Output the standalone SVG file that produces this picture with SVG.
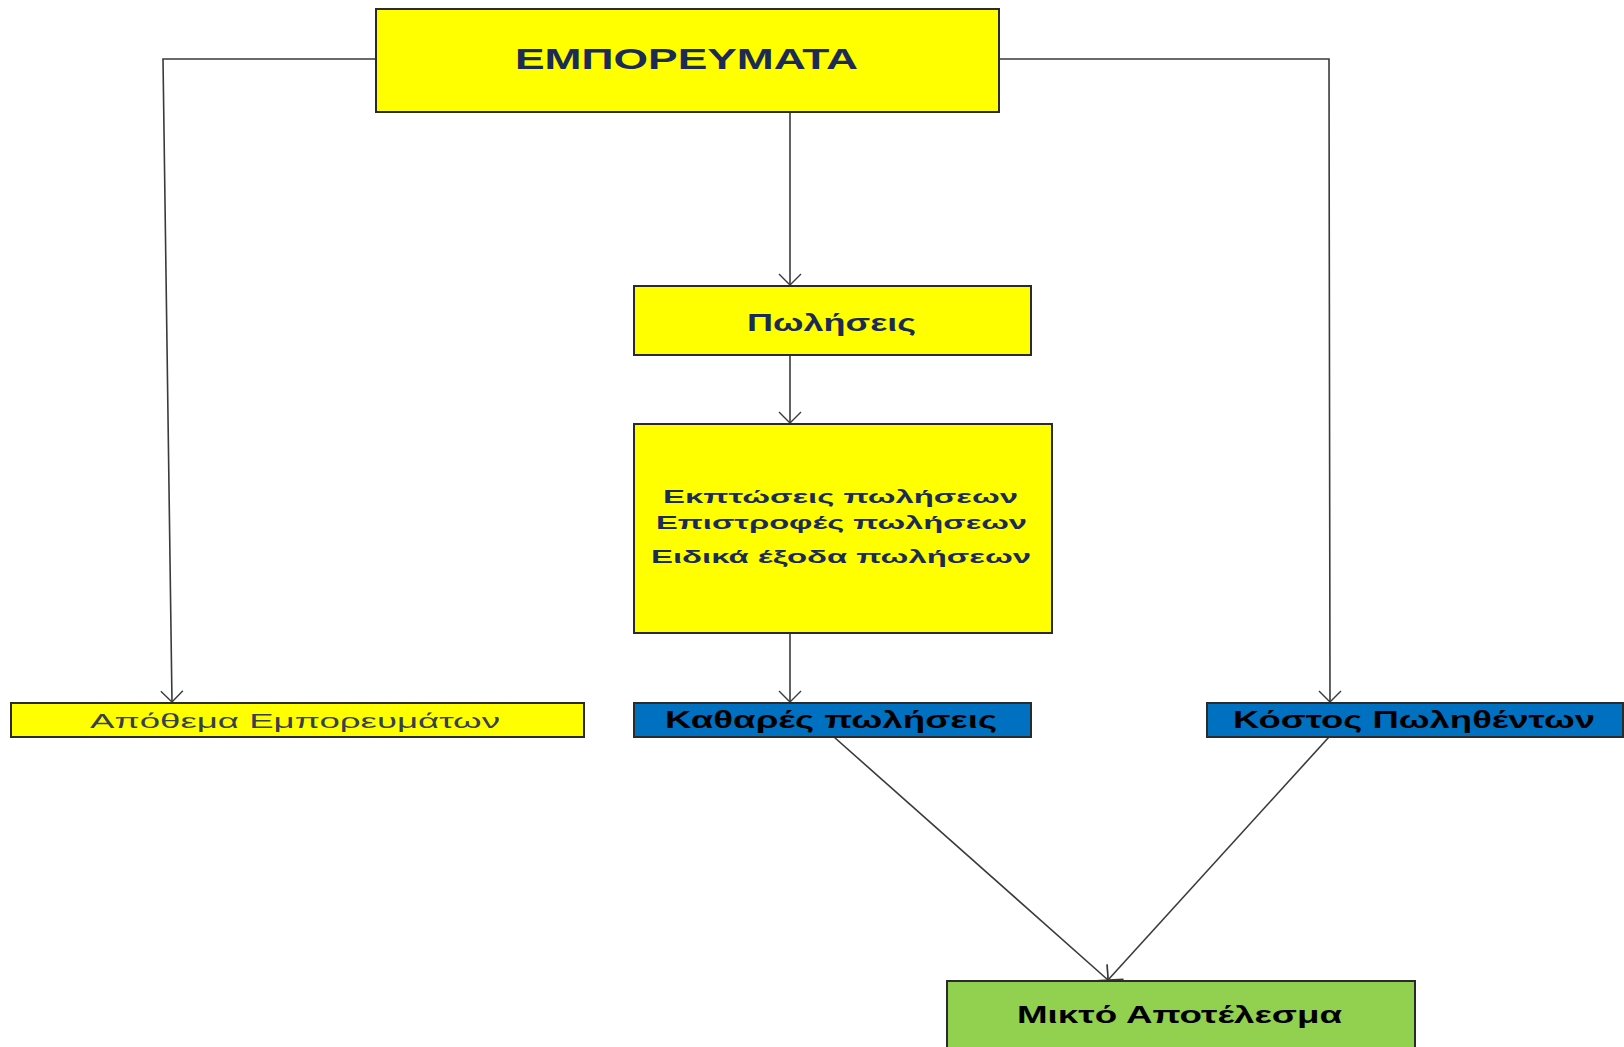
<svg xmlns="http://www.w3.org/2000/svg" width="1624" height="1047" viewBox="0 0 1624 1047">
<style>
.box{stroke:#2b2b2b;stroke-width:2}
.y{fill:#FFFF00}
.b{fill:#0070C0}
.g{fill:#92D050}
.t{font-family:"Liberation Sans",Arial,sans-serif;text-anchor:start}
.nv{fill:#1B2B55;font-weight:bold}
.bk{fill:#000;font-weight:bold}
.gr{fill:#36404f}
.c{fill:none;stroke:#3a3a3a;stroke-width:1.6}
</style>
<defs>
<marker id="ah" markerUnits="userSpaceOnUse" markerWidth="14" markerHeight="26" viewBox="0 0 14 26" refX="12" refY="13" orient="auto">
<path d="M1,2 L12,13 L1,24" fill="none" stroke="#3a3a3a" stroke-width="1.4"/>
</marker>
</defs>
<rect width="1624" height="1047" fill="#fff"/>
<g id="connectors">
<line class="c" x1="790" y1="112" x2="790" y2="285" marker-end="url(#ah)"/>
<line class="c" x1="790" y1="355" x2="790" y2="423" marker-end="url(#ah)"/>
<line class="c" x1="790" y1="633" x2="790" y2="702" marker-end="url(#ah)"/>
<polyline class="c" points="376,59 163,59 172,702" marker-end="url(#ah)"/>
<polyline class="c" points="999,59 1329,59 1330,702" marker-end="url(#ah)"/>
<line class="c" x1="834" y1="737" x2="1108" y2="980" marker-end="url(#ah)"/>
<line class="c" x1="1329" y1="737" x2="1108" y2="980" marker-end="url(#ah)"/>
</g>
<g id="node-emporevmata">
<rect class="box y" x="376" y="9" width="623" height="103"/>
<text class="t nv" x="515" y="69" font-size="30" textLength="343" lengthAdjust="spacingAndGlyphs">ΕΜΠΟΡΕΥΜΑΤΑ</text>
</g>
<g id="node-poliseis">
<rect class="box y" x="634" y="286" width="397" height="69"/>
<text class="t nv" x="747" y="331" font-size="24" textLength="169" lengthAdjust="spacingAndGlyphs">Πωλήσεις</text>
</g>
<g id="node-ekptoseis">
<rect class="box y" x="634" y="424" width="418" height="209"/>
<text class="t nv" x="663" y="503" font-size="18.5" textLength="355" lengthAdjust="spacingAndGlyphs">Εκπτώσεις πωλήσεων</text>
<text class="t nv" x="656" y="529" font-size="18.5" textLength="371" lengthAdjust="spacingAndGlyphs">Επιστροφές πωλήσεων</text>
<text class="t nv" x="651" y="563" font-size="18.5" textLength="380" lengthAdjust="spacingAndGlyphs">Ειδικά έξοδα πωλήσεων</text>
</g>
<g id="node-apothema">
<rect class="box y" x="11" y="703" width="573" height="34"/>
<text class="t gr" x="90" y="728" font-size="21" textLength="410" lengthAdjust="spacingAndGlyphs">Απόθεμα Εμπορευμάτων</text>
</g>
<g id="node-katheres">
<rect class="box b" x="634" y="703" width="397" height="34"/>
<text class="t bk" x="665" y="728" font-size="23" textLength="332" lengthAdjust="spacingAndGlyphs">Καθαρές πωλήσεις</text>
</g>
<g id="node-kostos">
<rect class="box b" x="1207" y="703" width="416" height="34"/>
<text class="t bk" x="1233" y="728" font-size="23" textLength="362" lengthAdjust="spacingAndGlyphs">Κόστος Πωληθέντων</text>
</g>
<g id="node-mikto">
<rect class="box g" x="947" y="981" width="468" height="70"/>
<text class="t bk" x="1017" y="1023" font-size="23" textLength="325" lengthAdjust="spacingAndGlyphs">Μικτό Αποτέλεσμα</text>
</g>
</svg>
